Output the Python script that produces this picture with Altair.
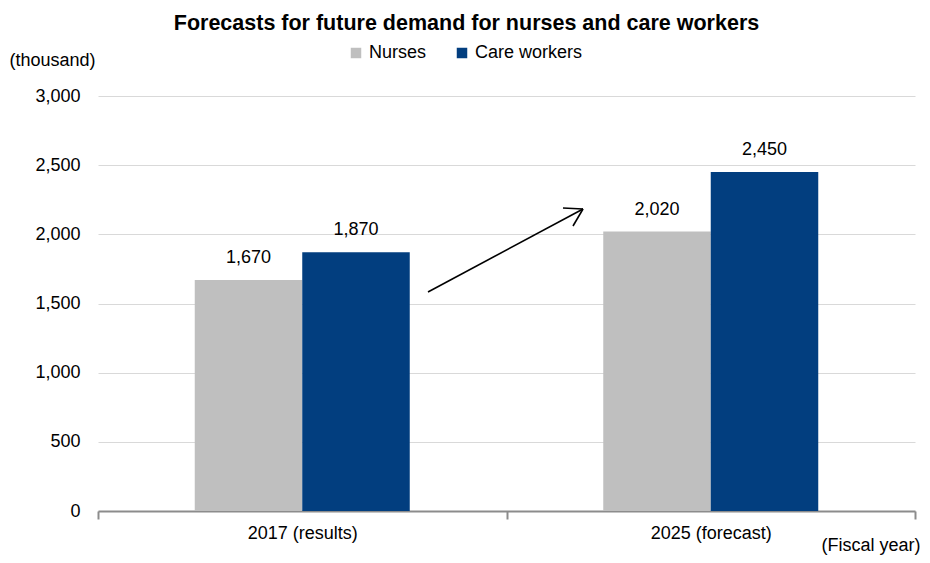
import altair as alt
import pandas as pd

years = ["2017 (results)", "2025 (forecast)"]
series = ["Nurses", "Care workers"]
nurses = [1670, 2020]
care = [1870, 2450]
colors = ["#bfbfbf", "#023e7f"]

rows = []
for i, y in enumerate(years):
    rows.append({"year": y, "series": series[0], "value": nurses[i], "label": f"{nurses[i]:,}"})
    rows.append({"year": y, "series": series[1], "value": care[i], "label": f"{care[i]:,}"})
df = pd.DataFrame(rows)

FONT = "Liberation Sans, Arial"
FS = 18

x = alt.X("year:N", sort=years,
          scale=alt.Scale(paddingInner=0, paddingOuter=0),
          axis=alt.Axis(title="(Fiscal year)", tickBand="extent", domainColor="#8c8c8c",
                        domainWidth=2, tickColor="#8c8c8c", tickWidth=2, tickSize=8,
                        labelAngle=0, labelFontSize=FS, labelColor="black", labelPadding=5,
                        labelFont=FONT, titleFont=FONT, titleFontSize=FS, titleFontWeight="normal",
                        titleAngle=0, titleAlign="right", titleX=822, titleY=34,
                        titleBaseline="middle", titleColor="black", grid=False))
xo = alt.XOffset("series:N", sort=series,
                 scale=alt.Scale(paddingInner=0, paddingOuter=0.9))
y = alt.Y("value:Q",
          scale=alt.Scale(domain=[0, 3000]),
          axis=alt.Axis(title="(thousand)", values=[0, 500, 1000, 1500, 2000, 2500, 3000],
                        format=",d", domain=False, ticks=False, labelPadding=18,
                        labelFontSize=FS, labelColor="black", labelFont=FONT,
                        gridColor="#d9d9d9", gridWidth=1,
                        titleFont=FONT, titleFontSize=FS, titleFontWeight="normal",
                        titleAngle=0, titleAlign="left", titleX=-89, titleY=-36,
                        titleBaseline="middle", titleColor="black"))
color = alt.Color("series:N", sort=series,
                  scale=alt.Scale(domain=series, range=colors),
                  legend=alt.Legend(title=None, orient="none", direction="horizontal",
                                    legendX=249, legendY=-52, symbolType="square",
                                    symbolSize=110, symbolStrokeWidth=0,
                                    labelFontSize=FS, labelFont=FONT, labelColor="black",
                                    columnPadding=26, labelOffset=4))

base = alt.Chart(df)
bars = base.mark_bar(opacity=1).encode(x=x, xOffset=xo, y=y, color=color)
labels = base.mark_text(fontSize=FS, font=FONT, baseline="bottom", dy=-13, color="black").encode(
    x=alt.X("year:N", sort=years), xOffset=alt.XOffset("series:N", sort=series),
    y="value:Q", text="label:N")

one = alt.Chart(pd.DataFrame({"a": [0]}))
shaft = one.mark_rule(color="black", strokeWidth=1.6).encode(
    x=alt.value(330), x2=alt.value(485), y=alt.value(196), y2=alt.value(113))
head1 = one.mark_rule(color="black", strokeWidth=1.6).encode(
    x=alt.value(485), x2=alt.value(465), y=alt.value(113), y2=alt.value(112))
head2 = one.mark_rule(color="black", strokeWidth=1.6).encode(
    x=alt.value(485), x2=alt.value(475), y=alt.value(113), y2=alt.value(130))

chart = alt.layer(bars, labels, shaft, head1, head2).properties(
    width=817, height=415,
    autosize=alt.AutoSizeParams(type="none"),
    padding={"left": 90, "top": 88, "right": 5, "bottom": 44},
    title=alt.Title("Forecasts for future demand for nurses and care workers",
                    fontSize=21.5, font=FONT, fontWeight="bold", color="black",
                    anchor="middle", offset=10, dx=-40)
).configure_view(stroke=None)

chart.save("out.html", embed_options={"renderer": "svg", "actions": False})
